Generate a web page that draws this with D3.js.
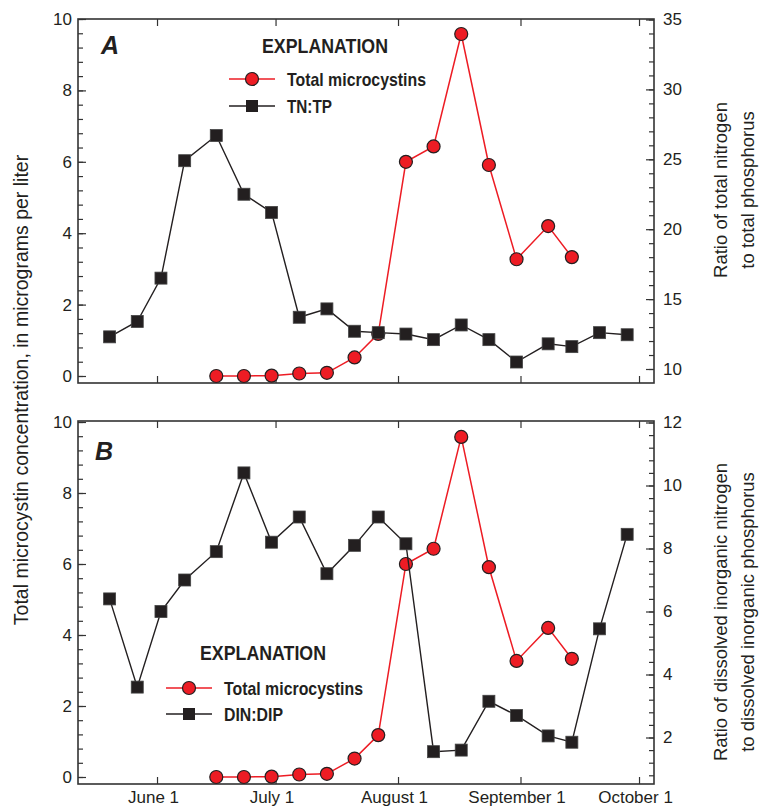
<!DOCTYPE html>
<html>
<head>
<meta charset="utf-8">
<script src="https://cdn.jsdelivr.net/npm/d3@7"></script>
<style>
  body { margin: 0; background: #fff; }
  svg { font-family: "Liberation Sans", Arial, sans-serif; }
  .tick text { font-family: "Liberation Sans", Arial, sans-serif; font-size: 17px; fill: #231f20; }
  .tick line { stroke: #333; stroke-width: 1.2; }
  .domain { display: none; }
</style>
</head>
<body>
<svg width="772" height="808"></svg>
<script>
// sampling dates (weekly)
const dates = ["2006-05-20", "2006-05-27", "2006-06-02", "2006-06-08", "2006-06-16", "2006-06-23",
  "2006-06-30", "2006-07-07", "2006-07-14", "2006-07-21", "2006-07-27", "2006-08-03", "2006-08-10",
  "2006-08-17", "2006-08-24", "2006-08-31", "2006-09-08", "2006-09-14", "2006-09-21", "2006-09-28"];
const tnTp = [12.3, 13.4, 16.5, 24.9, 26.7, 22.5, 21.2, 13.7, 14.3, 12.7, 12.6, 12.5, 12.1, 13.15,
  12.1, 10.5, 11.8, 11.6, 12.6, 12.45];
const dinDip = [6.4, 3.6, 6.0, 7.0, 7.9, 10.4, 8.2, 9.0, 7.2, 8.1, 9.0, 8.15, 1.55, 1.6, 3.15,
  2.7, 2.05, 1.85, 5.45, 8.45];

const microDates = ["2006-06-16", "2006-06-23", "2006-06-30", "2006-07-07", "2006-07-14", "2006-07-21",
  "2006-07-27", "2006-08-03", "2006-08-10", "2006-08-17", "2006-08-24", "2006-08-31", "2006-09-08", "2006-09-14"];
const microcystins = [0.0, 0.0, 0.01, 0.07, 0.09, 0.52, 1.18, 6.0, 6.43, 9.58, 5.91, 3.27, 4.2, 3.33];

const monthTicks = ["2006-06-01", "2006-07-01", "2006-08-01", "2006-09-01", "2006-10-01"];
const monthLabels = ["June 1", "July 1", "August 1", "September 1", "October 1"];

const parse = d3.timeParse("%Y-%m-%d");
const red = "#ed1c24", ink = "#231f20";
const left = 78, right = 654;

const svg = d3.select("svg");

const x = d3.scaleTime()
  .domain([new Date(2006, 4, 12), new Date(2006, 9, 4, 19)])
  .range([left, right]);

function panel(p) {
  const g = svg.append("g");
  const yL = d3.scaleLinear().domain([0, 10]).range(p.leftRange);
  const yR = d3.scaleLinear().domain(p.rightDomain).range(p.rightRange);

  // minor ticks
  g.append("g").attr("transform", `translate(${left},0)`)
    .call(d3.axisLeft(yL).tickValues(d3.range(0, 10.01, 0.4)).tickSize(-5).tickFormat(""));
  g.append("g").attr("transform", `translate(${left},0)`)
    .call(d3.axisLeft(yL).tickValues([0, 2, 4, 6, 8, 10]).tickSize(-8).tickPadding(6));

  g.append("g").attr("transform", `translate(${right},0)`)
    .call(d3.axisRight(yR).tickValues(p.rightMinor).tickSize(-5).tickFormat(""));
  g.append("g").attr("transform", `translate(${right},0)`)
    .call(d3.axisRight(yR).tickValues(p.rightMajor).tickSize(-8).tickPadding(9));

  const mt = monthTicks.map(parse);
  g.append("g").attr("transform", `translate(0,${p.top})`)
    .call(d3.axisTop(x).tickValues(mt).tickSize(-7).tickFormat(""));
  const bx = g.append("g").attr("transform", `translate(0,${p.bottom})`)
    .call(d3.axisBottom(x).tickValues(mt).tickSize(-7).tickPadding(7)
      .tickFormat((d, i) => p.labels ? monthLabels[i] : ""));
  bx.selectAll("text").attr("x", -4);

  g.append("rect").attr("x", left).attr("y", p.top)
    .attr("width", right - left).attr("height", p.bottom - p.top)
    .attr("fill", "none").attr("stroke", "#333").attr("stroke-width", 1.6);

  // microcystins (left axis)
  const micro = microDates.map((d, i) => ({ t: parse(d), v: microcystins[i] }));
  g.append("path").datum(micro)
    .attr("d", d3.line().x(d => x(d.t)).y(d => yL(d.v)))
    .attr("fill", "none").attr("stroke", red).attr("stroke-width", 1.5);
  g.selectAll(".mc").data(micro).enter().append("circle")
    .attr("cx", d => x(d.t)).attr("cy", d => yL(d.v)).attr("r", 6.5)
    .attr("fill", red).attr("stroke", ink).attr("stroke-width", 1.2);

  // ratio (right axis)
  const ratio = dates.map((d, i) => ({ t: parse(d), v: p.ratio[i] }));
  g.append("path").datum(ratio)
    .attr("d", d3.line().x(d => x(d.t)).y(d => yR(d.v)))
    .attr("fill", "none").attr("stroke", ink).attr("stroke-width", 1.4);
  g.selectAll(".sq").data(ratio).enter().append("rect")
    .attr("x", d => x(d.t) - 6).attr("y", d => yR(d.v) - 6)
    .attr("width", 12).attr("height", 12)
    .attr("fill", ink).attr("stroke", "#444").attr("stroke-width", 0.8);

  // panel letter
  g.append("text").attr("x", p.letterX).attr("y", p.letterY).text(p.letter)
    .attr("font-size", 25).attr("font-weight", "bold").attr("font-style", "italic").attr("fill", ink);

  // legend (condensed bold look via textLength)
  const lg = p.legend;
  g.append("text").attr("x", lg.titleX - 63).attr("y", lg.titleY)
    .text("EXPLANATION").attr("fill", ink)
    .attr("font-size", 21).attr("font-weight", "bold")
    .attr("textLength", 126).attr("lengthAdjust", "spacingAndGlyphs");
  const rows = [{ name: "Total microcystins", w: 139, c: red, m: "circle", y: lg.y1 },
                { name: p.ratioName, w: p.ratioW, c: ink, m: "square", y: lg.y2 }];
  rows.forEach(r => {
    g.append("line").attr("x1", lg.x0).attr("x2", lg.x0 + 46).attr("y1", r.y).attr("y2", r.y)
      .attr("stroke", r.c).attr("stroke-width", 1.4);
    if (r.m === "circle") {
      g.append("circle").attr("cx", lg.x0 + 23).attr("cy", r.y).attr("r", 6.5)
        .attr("fill", red).attr("stroke", ink).attr("stroke-width", 1.2);
    } else {
      g.append("rect").attr("x", lg.x0 + 17).attr("y", r.y - 6).attr("width", 12).attr("height", 12)
        .attr("fill", ink);
    }
    g.append("text").attr("x", lg.x0 + 58).attr("y", r.y + 6.5).text(r.name).attr("fill", ink)
      .attr("font-size", 19).attr("font-weight", "bold")
      .attr("textLength", r.w).attr("lengthAdjust", "spacingAndGlyphs");
  });

  // right axis title
  const rt = g.append("text").attr("transform", `translate(727,${p.rightTitleY}) rotate(-90)`)
    .attr("text-anchor", "middle").attr("font-size", 18.5).attr("fill", ink);
  rt.append("tspan").attr("x", 0).attr("y", 0).text(p.rightTitle[0]);
  rt.append("tspan").attr("x", 0).attr("y", 27).text(p.rightTitle[1]);
}

panel({
  top: 19, bottom: 383, leftRange: [376, 19],
  rightDomain: [10, 35], rightRange: [369, 19.5],
  rightMajor: [10, 15, 20, 25, 30, 35], rightMinor: d3.range(10, 35.01, 1),
  ratio: tnTp, ratioName: "TN:TP", ratioW: 45, labels: false,
  letter: "A", letterX: 101, letterY: 54,
  legend: { titleX: 325, titleY: 53, x0: 229, y1: 79, y2: 106 },
  rightTitle: ["Ratio of total nitrogen", "to total phosphorus"], rightTitleY: 190
});

panel({
  top: 421, bottom: 784, leftRange: [777, 422],
  rightDomain: [2, 12], rightRange: [737.5, 422.5],
  rightMajor: [2, 4, 6, 8, 10, 12], rightMinor: d3.range(0.8, 12.01, 0.4),
  ratio: dinDip, ratioName: "DIN:DIP", ratioW: 59, labels: true,
  letter: "B", letterX: 95, letterY: 460,
  legend: { titleX: 263, titleY: 660, x0: 166, y1: 688, y2: 714 },
  rightTitle: ["Ratio of dissolved inorganic nitrogen", "to dissolved inorganic phosphorus"], rightTitleY: 612
});

svg.append("text").attr("transform", "translate(28,390) rotate(-90)")
  .attr("text-anchor", "middle").attr("font-size", 19.5).attr("fill", ink)
  .text("Total microcystin concentration, in micrograms per liter");
</script>
</body>
</html>
